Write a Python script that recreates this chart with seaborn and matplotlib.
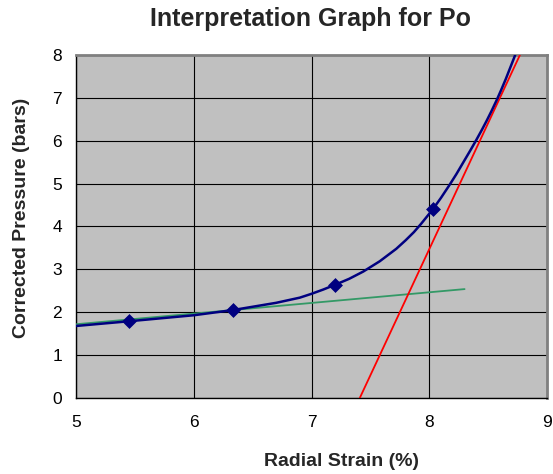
import matplotlib
matplotlib.use("Agg")
import matplotlib.pyplot as plt
from matplotlib.ticker import MultipleLocator
import pandas as pd
import seaborn as sns

# Measured points (radial strain %, corrected pressure bars)
strain_pts = [5.45, 6.33, 7.20, 8.03]
pressure_pts = [1.79, 2.05, 2.64, 4.40]

# Smoothed pressure curve through the measurements
curve_strain = [5.00, 5.45, 6.00, 6.33, 6.70, 6.90, 7.00, 7.10, 7.20, 7.32, 7.44,
                7.58, 7.72, 7.80, 7.87, 7.93, 8.03, 8.10, 8.17, 8.23, 8.29,
                8.35, 8.40, 8.45, 8.49, 8.53, 8.573, 8.61, 8.65, 8.69, 8.73]
curve_pressure = [1.68, 1.79, 1.93, 2.05, 2.22, 2.34, 2.43, 2.53, 2.64, 2.78, 2.95,
                  3.19, 3.48, 3.68, 3.87, 4.06, 4.40, 4.67, 4.96, 5.22, 5.50,
                  5.78, 6.02, 6.27, 6.48, 6.70, 6.95, 7.18, 7.44, 7.72, 8.00]

# Tangent lines used to pick Po
green_strain = [5.00, 8.30]
green_pressure = [1.72, 2.54]
red_strain = [7.41, 8.77]
red_pressure = [0.00, 8.00]

sns.set_style("white")
plt.rcParams["font.family"] = ["Liberation Sans", "DejaVu Sans"]

fig = plt.figure(figsize=(5.53, 4.74), dpi=100)
ax = fig.add_axes([76 / 553, 1 - 398 / 474, (547 - 76) / 553, (398 - 55) / 474])
ax.set_facecolor("#c0c0c0")

df_curve = pd.DataFrame({"strain": curve_strain, "pressure": curve_pressure})
df_pts = pd.DataFrame({"strain": strain_pts, "pressure": pressure_pts})
df_green = pd.DataFrame({"strain": green_strain, "pressure": green_pressure})
df_red = pd.DataFrame({"strain": red_strain, "pressure": red_pressure})

sns.lineplot(data=df_green, x="strain", y="pressure", ax=ax, color="#339966",
             linewidth=1.3, sort=False, zorder=3)
sns.lineplot(data=df_red, x="strain", y="pressure", ax=ax, color="#ff0000",
             linewidth=1.3, sort=False, zorder=3)
sns.lineplot(data=df_curve, x="strain", y="pressure", ax=ax, color="#000080",
             linewidth=1.8, sort=False, zorder=4)
ax.lines[-1].set_solid_joinstyle("round")
sns.scatterplot(data=df_pts, x="strain", y="pressure", ax=ax, color="#000080",
                marker="D", s=50, edgecolor="#000080", linewidth=0.5, zorder=5)

ax.set_xlim(5, 9)
ax.set_ylim(0, 8)
ax.xaxis.set_major_locator(MultipleLocator(1))
ax.yaxis.set_major_locator(MultipleLocator(1))
ax.xaxis.set_minor_locator(MultipleLocator(0.2))
ax.yaxis.set_minor_locator(MultipleLocator(0.2))
ax.grid(True, which="major", color="black", linewidth=0.8)
ax.set_axisbelow(True)

ax.tick_params(which="major", direction="out", length=5, width=0.8,
               colors="black", labelsize=12.5, pad=5)
ax.tick_params(which="minor", direction="in", length=4, width=0.8, colors="black")
ax.tick_params(axis="x", which="major", pad=7)

for side in ("left", "bottom"):
    ax.spines[side].set_color("black")
    ax.spines[side].set_linewidth(1.0)
for side in ("right", "top"):
    ax.spines[side].set_color("#808080")
    ax.spines[side].set_linewidth(2.0)

ax.set_xlabel("")
ax.set_ylabel("")
fig.text(311 / 553, 1 - 19 / 474, "Interpretation Graph for Po", ha="center",
         va="center", fontsize=18, fontweight="bold")
fig.text(341 / 553, 1 - 462 / 474, "Radial Strain (%)", ha="center",
         va="center", fontsize=14, fontweight="bold")
fig.text(22 / 553, 1 - 218 / 474, "Corrected Pressure (bars)", ha="center",
         va="center", rotation=90, fontsize=14, fontweight="bold")

fig.savefig("out.png", dpi=100)
